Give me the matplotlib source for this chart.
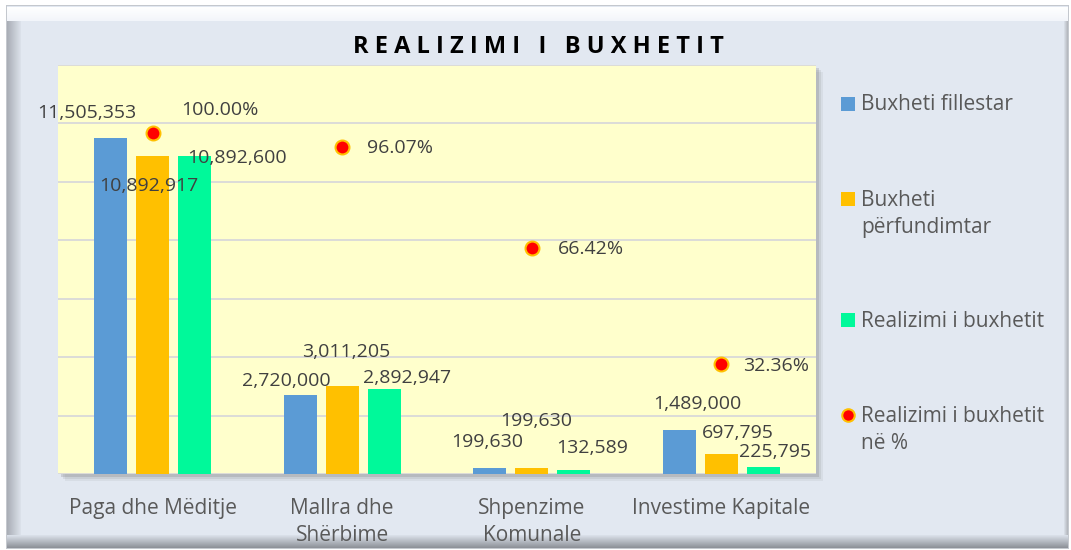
import matplotlib.pyplot as plt
import numpy as np
from matplotlib.patches import Rectangle
from matplotlib.lines import Line2D
from matplotlib.colors import LinearSegmentedColormap

plt.rcParams['font.family'] = ['Open Sans', 'DejaVu Sans']

categories = ['Paga dhe Mëditje', 'Mallra dhe\nShërbime', 'Shpenzime\nKomunale', 'Investime Kapitale']
fillestar = [11505353, 2720000, 199630, 1489000]
perfundimtar = [10892917, 3011205, 199630, 697795]
realizimi = [10892600, 2892947, 132589, 225795]
realizimi_pct = [100.00, 96.07, 66.42, 32.36]
series_names = ['Buxheti fillestar', 'Buxheti\npërfundimtar', 'Realizimi i buxhetit',
                'Realizimi i buxhetit\nnë %']

# label offsets in pixels (dx, dy) from the top of each bar / marker
off_blue = [(-24, 25), (-14, 14), (-2, 26), (18, 26)]
off_orange = [(-4, -30), (4, 34), (4, 47), (17, 21)]
off_green = [(42, -2), (23, 11), (18, 22), (12, 15)]
off_pct = [(67, 23), (58, -1), (59, -1), (55, -2)]

blue, orange, green = '#5B9BD5', '#FFC000', '#00F99A'
txt = '#404040'
W, H = 1071, 550

fig = plt.figure(figsize=(10.71, 5.5), dpi=100)
fig.patch.set_facecolor('white')

# chart frame with a bevelled border, drawn in pixel coords
bg = fig.add_axes([0, 0, 1, 1], zorder=-10)
bg.add_patch(Rectangle((6, 5), 1063, 544, facecolor='#C4C8CE', edgecolor='none', zorder=0))
bg.add_patch(Rectangle((7, 6), 1061, 542, facecolor='#E2E8F1', edgecolor='none', zorder=0.5))
grad = np.linspace(0, 1, 50)
strips = [
    (grad[:, None], (7, 1068, 21, 7), ['#FFFFFF', '#F2F5FA']),
    (grad[None, :], (7, 21, 548, 21), ['#A9ADB5', '#DCE2EB']),
    (grad[:, None], (7, 1068, 548, 535), ['#DCE2EB', '#8C9097']),
    (grad[None, :], (1064, 1068, 535, 21), ['#DCE2EB', '#B0B4BA']),
]
for arr, ext, cols in strips:
    bg.imshow(arr, extent=ext, cmap=LinearSegmentedColormap.from_list('g', cols),
              aspect='auto', zorder=2)
bg.set_xlim(0, W)
bg.set_ylim(H, 0)
bg.axis('off')

left, right, top, bottom = 58, 816, 65, 474
# plot area shadow
for k, a in [(7, 0.10), (5, 0.15), (3, 0.25)]:
    bg.add_patch(Rectangle((left + k, top + k), right - left, bottom - top,
                           facecolor='#7F7F7F', alpha=a, edgecolor='none', zorder=3))

ax = fig.add_axes([left / W, (H - bottom) / H, (right - left) / W, (bottom - top) / H])
ax.set_facecolor('#FFFFCC')

x = np.arange(len(categories))
w = 0.174
step = 0.222
b1 = ax.bar(x - step, fillestar, w, color=blue, zorder=2)
b2 = ax.bar(x, perfundimtar, w, color=orange, zorder=2)
b3 = ax.bar(x + step, realizimi, w, color=green, zorder=2)

ax.set_xlim(-0.5, 3.5)
ax.set_ylim(0, 14000000)
ax.set_yticks(np.arange(0, 14000001, 2000000))
ax.yaxis.grid(True, color='#D9D9D9', linewidth=1.3)
ax.set_axisbelow(True)
ax.set_xticks(x)
ax.set_xticklabels(categories, linespacing=1.4, va='top')
for s in ax.spines.values():
    s.set_visible(False)

ax2 = ax.twinx()
ax2.set_ylim(0, 120)
ax2.axis('off')
ax2.scatter(x, realizimi_pct, s=100, color='#FF0000', edgecolor=orange, linewidth=1.5, zorder=3)

ax.tick_params(axis='y', left=False, right=False, labelleft=False, labelright=False)
ax.tick_params(axis='x', length=0, pad=17, labelsize=15, labelcolor='#595959')

def fmt(v):
    return f'{v:,}'

for bars, vals, offs in [(b1, fillestar, off_blue), (b2, perfundimtar, off_orange), (b3, realizimi, off_green)]:
    for r, v, (dx, dy) in zip(bars, vals, offs):
        ax2.annotate(fmt(v), xy=(r.get_x() + r.get_width() / 2, v / 14000000 * 120),
                     xytext=(dx, dy), textcoords='offset pixels', ha='center', va='center',
                     fontsize=14, color=txt, zorder=5)
for xi, p, (dx, dy) in zip(x, realizimi_pct, off_pct):
    ax2.annotate(f'{p:.2f}%', xy=(xi, p), xytext=(dx, dy), textcoords='offset pixels',
                 ha='center', va='center', fontsize=14, color=txt, zorder=5)

fig.text(538 / W, 1 - 47 / H, 'R E A L I Z I M I   I   B U X H E T I T', ha='center', va='center',
         fontsize=17, fontweight='bold', color='black')

def sq(c):
    return Line2D([], [], marker='s', linestyle='none', markersize=10, markerfacecolor=c,
                  markeredgewidth=0)

handles = [sq(blue), sq(orange), sq(green),
           Line2D([], [], marker='o', linestyle='none', markersize=9, markerfacecolor='#FF0000',
                  markeredgecolor=orange, markeredgewidth=1.5)]
leg = fig.legend(handles, series_names, loc='upper left', bbox_to_anchor=(831 / W, 1 - 84 / H),
                 frameon=False, fontsize=15, labelcolor='#595959', handlelength=0.65,
                 handleheight=1.3, handletextpad=0.3, labelspacing=3.5, borderpad=0)
for t in leg.get_texts():
    t.set_linespacing(1.35)
# put the legend symbol next to the first line of two-line labels
for col in leg._legend_handle_box.get_children():
    for row in col.get_children():
        row.align = 'top'

fig.savefig('out.png', dpi=100)
